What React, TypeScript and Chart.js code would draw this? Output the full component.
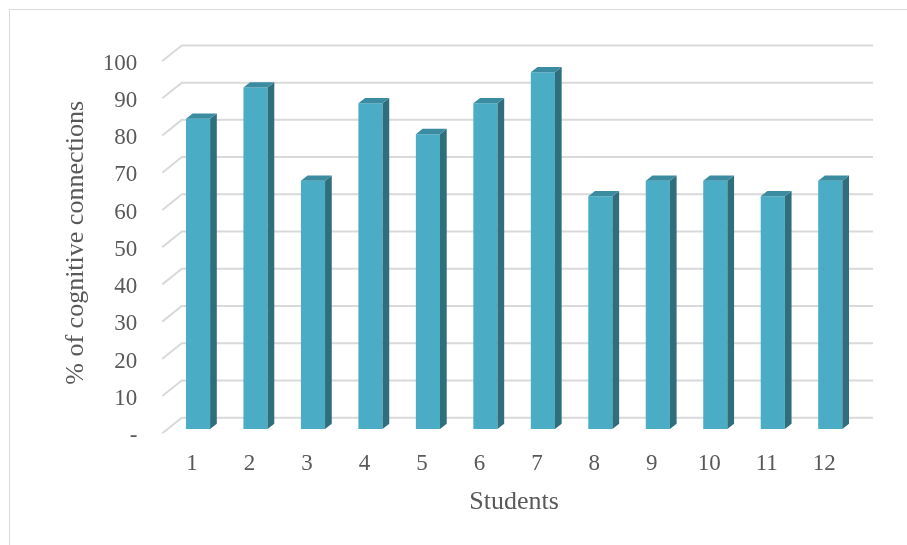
import React, { useEffect, useRef } from "react";
import { Chart, registerables } from "chart.js";

Chart.register(...registerables);

const students = ["1", "2", "3", "4", "5", "6", "7", "8", "9", "10", "11", "12"];
const cognitiveConnections = [83.3, 91.7, 66.7, 87.5, 79.2, 87.5, 95.8, 62.5, 66.7, 66.7, 62.5, 66.7];
const yTickValues = [0, 10, 20, 30, 40, 50, 60, 70, 80, 90, 100];

const FRONT = "#4BACC6";
const SIDE = "#2F6E7D";
const TOP = "#3B8CA1";
const GRID = "#d9d9d9";
const TEXT = "#595959";
const FONT = "'Liberation Serif', 'Times New Roman', serif";

const threeD = {
  id: "threeD",
  beforeDatasetsDraw(chart: any) {
    const { ctx, chartArea, scales } = chart;
    const y = scales.y;
    ctx.save();
    ctx.strokeStyle = GRID;
    ctx.lineWidth = 2;
    for (const v of yTickValues) {
      const py = y.getPixelForValue(v);
      ctx.beginPath();
      ctx.moveTo(chartArea.left - 7, py + 4.3);
      ctx.lineTo(chartArea.left + 12.5, py - 11.3);
      ctx.lineTo(chartArea.right + 14, py - 11.3);
      ctx.stroke();
    }
    ctx.restore();
  },
  afterDatasetsDraw(chart: any) {
    const { ctx } = chart;
    const meta = chart.getDatasetMeta(0);
    const dx = 6.7;
    const dy = -5.3;
    ctx.save();
    meta.data.forEach((el: any) => {
      const { x, y, base, width } = el.getProps(["x", "y", "base", "width"], true);
      const l = x - width / 2;
      const r = x + width / 2;
      ctx.fillStyle = SIDE;
      ctx.beginPath();
      ctx.moveTo(r, y);
      ctx.lineTo(r + dx, y + dy);
      ctx.lineTo(r + dx, base + dy);
      ctx.lineTo(r, base);
      ctx.closePath();
      ctx.fill();
      ctx.fillStyle = TOP;
      ctx.beginPath();
      ctx.moveTo(l, y);
      ctx.lineTo(l + dx, y + dy);
      ctx.lineTo(r + dx, y + dy);
      ctx.lineTo(r, y);
      ctx.closePath();
      ctx.fill();
    });
    ctx.restore();
  },
};

export default function App() {
  const ref = useRef<HTMLCanvasElement>(null);
  useEffect(() => {
    if (!ref.current) return;
    const chart = new Chart(ref.current, {
      type: "bar",
      data: {
        labels: students,
        datasets: [
          {
            data: cognitiveConnections,
            backgroundColor: FRONT,
            borderWidth: 0,
            barPercentage: 0.42,
            categoryPercentage: 1,
          },
        ],
      },
      options: {
        animation: false,
        responsive: true,
        maintainAspectRatio: false,
        layout: { padding: { top: 56.7, left: 0, right: 48, bottom: 0 } },
        plugins: { legend: { display: false }, tooltip: { enabled: false } },
        scales: {
          x: {
            grid: { display: false, drawTicks: false },
            border: { display: false },
            afterFit: (s: any) => {
              s.height = 116;
            },
            ticks: {
              color: TEXT,
              font: { family: FONT, size: 23 },
              padding: 21,
              labelOffset: -6,
              maxRotation: 0,
            },
            title: {
              display: true,
              text: "Students",
              color: TEXT,
              font: { family: FONT, size: 26 },
              padding: { top: 0, bottom: 27 },
            },
          },
          y: {
            min: 0,
            max: 100,
            grid: { display: false, drawTicks: false },
            border: { display: false },
            afterFit: (s: any) => {
              s.width = 169.3;
            },
            afterBuildTicks: (s: any) => {
              s.ticks = yTickValues.map((v) => ({ value: v }));
            },
            ticks: {
              color: TEXT,
              font: { family: FONT, size: 23 },
              padding: 32,
              labelOffset: 7,
              callback: (v: any) => (Number(v) === 0 ? "-" : String(v)),
            },
            title: {
              display: true,
              text: "% of cognitive connections",
              color: TEXT,
              font: { family: FONT, size: 26 },
              padding: { top: 61, bottom: 0 },
            },
          },
        },
      },
      plugins: [threeD],
    });
    return () => chart.destroy();
  }, []);
  return (
    <div style={{ position: "fixed", left: 0, top: 0, width: 907, height: 545, background: "#fff" }}>
      <div
        style={{
          position: "absolute",
          left: 9,
          top: 9,
          width: 920,
          height: 560,
          border: "1px solid #d9d9d9",
          boxSizing: "border-box",
        }}
      />
      <canvas ref={ref} style={{ position: "absolute", left: 0, top: 0 }} />
    </div>
  );
}
